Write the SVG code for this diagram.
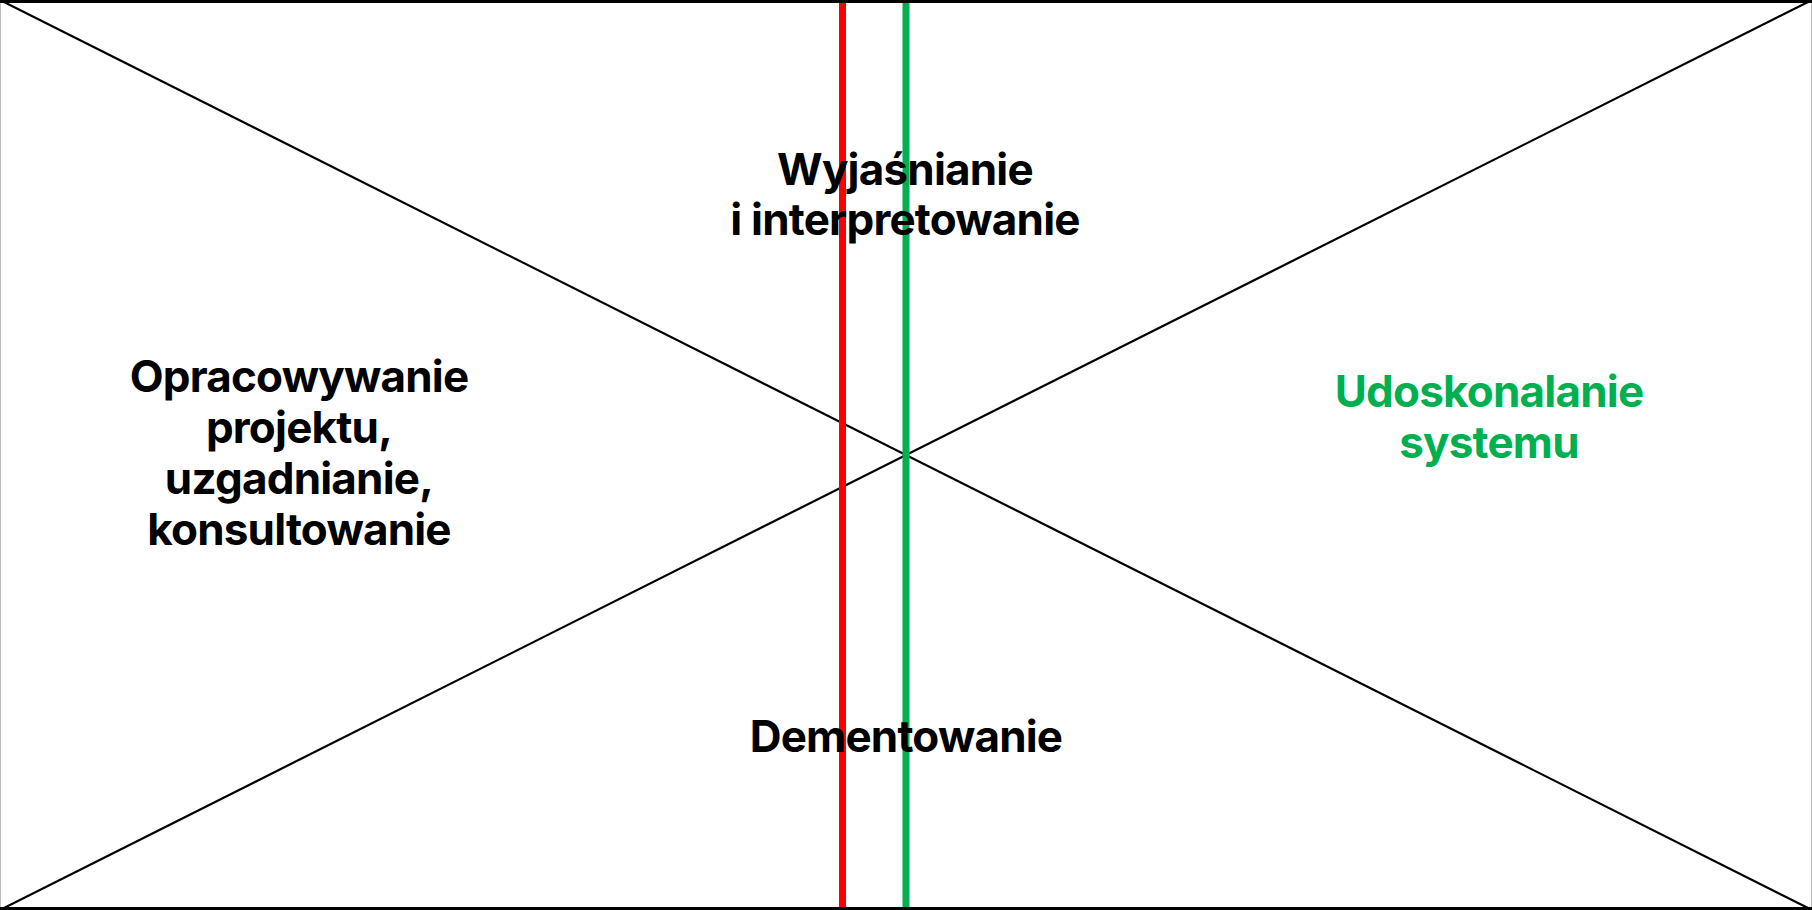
<svg xmlns="http://www.w3.org/2000/svg" width="1812" height="910" viewBox="0 0 1812 910">
<style>
.lbl{font-family:Inter,"Noto Sans","Liberation Sans",sans-serif;font-weight:700;font-size:44px;letter-spacing:-0.8px;text-anchor:middle;fill:#000}
.grn{fill:#00b050}
.diag{stroke:#000;stroke-width:2.2;fill:none}
</style>
<rect x="0" y="0" width="1812" height="910" fill="#fff"/>
<g id="frame">
<line x1="0.5" y1="0" x2="0.5" y2="910" stroke="#bdbdbd" stroke-width="1"/>
<line x1="1811.5" y1="0" x2="1811.5" y2="910" stroke="#bdbdbd" stroke-width="1"/>
<line x1="0" y1="1.5" x2="1812" y2="1.5" stroke="#000" stroke-width="3"/>
<line x1="0" y1="908.5" x2="1812" y2="908.5" stroke="#000" stroke-width="3"/>
</g>
<g id="connectors">
<line class="diag" x1="0" y1="0" x2="1812" y2="910"/>
<line class="diag" x1="0" y1="910" x2="1812" y2="0"/>
<line x1="842.5" y1="3" x2="842.5" y2="907" stroke="#ff0000" stroke-width="7"/>
<line x1="906" y1="3" x2="906" y2="907" stroke="#00b050" stroke-width="7"/>
</g>
<g id="top">
<text class="lbl" x="905" y="185">Wyjaśnianie</text>
<text class="lbl" x="905" y="235">i interpretowanie</text>
</g>
<g id="left">
<text class="lbl" x="299" y="392">Opracowywanie</text>
<text class="lbl" x="299" y="443">projektu,</text>
<text class="lbl" x="299" y="494">uzgadnianie,</text>
<text class="lbl" x="299" y="545">konsultowanie</text>
</g>
<g id="right">
<text class="lbl grn" x="1489" y="407">Udoskonalanie</text>
<text class="lbl grn" x="1489" y="458">systemu</text>
</g>
<g id="bottom">
<text class="lbl" x="906" y="752">Dementowanie</text>
</g>
</svg>
